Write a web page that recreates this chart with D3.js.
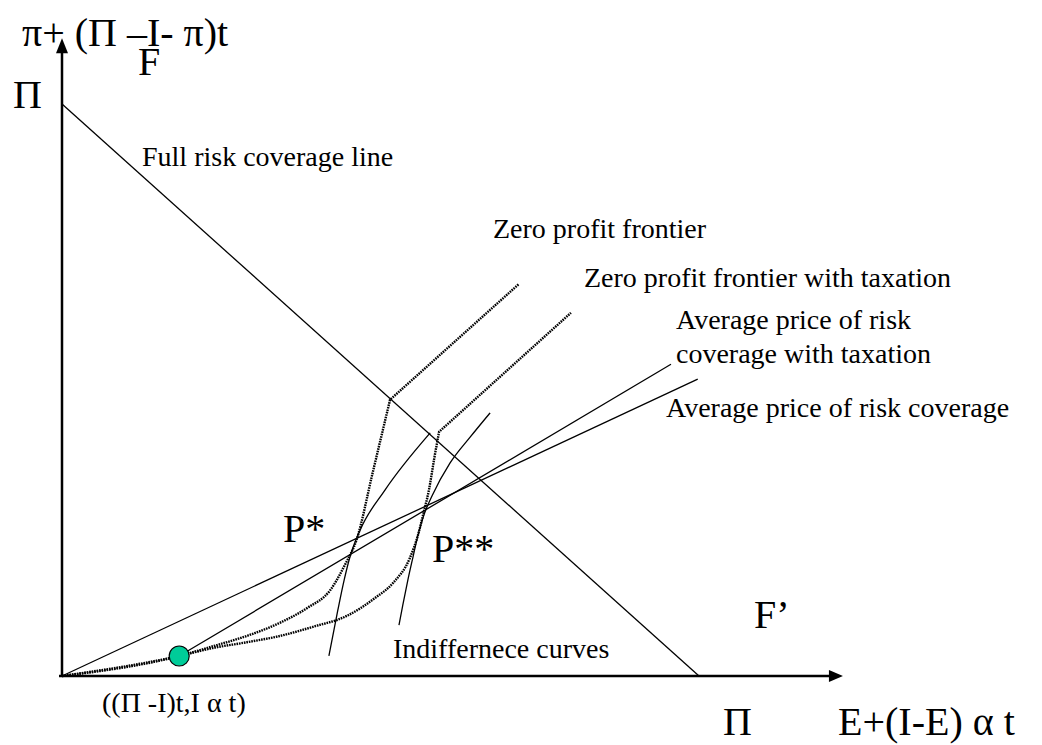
<!DOCTYPE html>
<html>
<head>
<meta charset="utf-8">
<script src="https://cdn.jsdelivr.net/npm/d3@7"></script>
<style>
  html, body { margin: 0; padding: 0; background: #fff; }
  svg { display: block; }
  text { font-family: "Liberation Serif", "Times New Roman", serif; fill: #000; }
</style>
</head>
<body>
<svg id="chart" width="1042" height="745"></svg>
<script>
// ---- Data (abstract units, Π = 10 on both axes) ----
const axisExtentX = 12.26;
const axisExtentY = 11.15;
const fullRiskLine = [[0, 10], [10, 0]];
const avgPriceLine = [[0, 0], [9.98, 5.19]];
const avgPriceTaxLine = [[1.84, 0.35], [9.56, 5.45]];
const startPoint = [1.84, 0.35];
// last point of each frontier is reached by a straight segment from the kink
const zeroProfit = [[0,0],[1.84,0.35],[2.37,0.52],[2.90,0.70],[3.42,0.93],[3.85,1.19],[4.21,1.50],[4.44,1.94],[4.63,2.40],[4.87,3.52],[5.15,4.83],[7.17,6.85]];
const zeroProfitTax = [[0,0],[1.84,0.35],[2.37,0.49],[2.90,0.59],[3.42,0.70],[3.94,0.86],[4.47,1.05],[4.91,1.36],[5.20,1.63],[5.46,2.06],[5.59,2.47],[5.68,2.87],[5.76,3.25],[5.84,3.78],[5.92,4.27],[7.99,6.35]];
const indiff1 = [[4.19,0.35],[4.33,1.15],[4.43,1.68],[4.52,2.08],[4.68,2.55],[5.07,3.25],[5.78,4.25]];
const indiff2 = [[5.29,0.89],[5.35,1.24],[5.43,1.68],[5.51,2.08],[5.59,2.47],[5.68,2.81],[5.81,3.15],[6.09,3.72],[6.41,4.18],[6.72,4.60]];

const labelsText = {
  yTitle: "π+ (Π –I- π)t",
  yTitleSub: "F",
  yPi: "Π",
  fullRisk: "Full risk coverage line",
  zpf: "Zero profit frontier",
  zpfTax: "Zero profit frontier with taxation",
  avgTax1: "Average price of risk",
  avgTax2: "coverage with taxation",
  avg: "Average price of risk coverage",
  pStar: "P*",
  pStar2: "P**",
  fPrime: "F’",
  indiff: "Indiffernece curves",
  start: "((Π -I)t,I α t)",
  xPi: "Π",
  xTitle: "E+(I-E) α t"
};

// ---- Scales ----
const x = d3.scaleLinear().domain([0, 10]).range([62, 699]);
const y = d3.scaleLinear().domain([0, 10]).range([676, 104]);

const svg = d3.select("#chart");
const line = d3.line().x(d => x(d[0])).y(d => y(d[1]));
const smooth = d3.line().x(d => x(d[0])).y(d => y(d[1])).curve(d3.curveMonotoneX);

// Axes
svg.append("line").attr("x1", x(0)).attr("y1", y(0) + 1).attr("x2", x(0)).attr("y2", y(axisExtentY) + 12)
  .attr("stroke", "#000").attr("stroke-width", 2.5);
svg.append("line").attr("x1", x(0) - 3).attr("y1", y(0)).attr("x2", x(axisExtentX) - 12).attr("y2", y(0))
  .attr("stroke", "#000").attr("stroke-width", 2.5);
const yt = [x(0), y(axisExtentY)];
svg.append("path").attr("d", `M${yt[0]},${yt[1]} L${yt[0]-6},${yt[1]+15} L${yt[0]+6},${yt[1]+15} Z`).attr("fill", "#000");
const xt = [x(axisExtentX), y(0)];
svg.append("path").attr("d", `M${xt[0]},${xt[1]} L${xt[0]-14},${xt[1]-6} L${xt[0]-14},${xt[1]+6} Z`).attr("fill", "#000");

// Straight lines
[fullRiskLine, avgPriceLine, avgPriceTaxLine].forEach(d => {
  svg.append("path").attr("d", line(d)).attr("fill", "none").attr("stroke", "#000").attr("stroke-width", 1.3);
});

// Indifference curves
[indiff1, indiff2].forEach(d => {
  svg.append("path").attr("d", smooth(d)).attr("fill", "none").attr("stroke", "#000").attr("stroke-width", 1.3);
});

// Zero profit frontiers (dotted): smooth up to the kink, then straight
[zeroProfit, zeroProfitTax].forEach(d => {
  const end = d[d.length - 1];
  const p = smooth(d.slice(0, -1)) + `L${x(end[0])},${y(end[1])}`;
  svg.append("path").attr("d", p).attr("fill", "none").attr("stroke", "#000")
    .attr("stroke-width", 2.4).attr("stroke-dasharray", "1.6,0.9");
});

// start point
svg.append("circle").attr("cx", x(startPoint[0])).attr("cy", y(startPoint[1])).attr("r", 10)
  .attr("fill", "#00cc99").attr("stroke", "#000").attr("stroke-width", 1.2);

// Labels
function label(t, px, py, size) {
  svg.append("text").attr("x", px).attr("y", py).attr("font-size", size).text(t);
}
label(labelsText.yTitle, 22, 46, 40);
label(labelsText.yTitleSub, 138, 75, 40);
label(labelsText.yPi, 13, 108, 40);
label(labelsText.fullRisk, 142, 166, 28);
label(labelsText.zpf, 493, 238, 28);
label(labelsText.zpfTax, 584, 287, 28);
label(labelsText.avgTax1, 676, 329, 28);
label(labelsText.avgTax2, 676, 363, 28);
label(labelsText.avg, 666, 417, 28);
label(labelsText.pStar, 283, 542, 40);
label(labelsText.pStar2, 432, 562, 40);
label(labelsText.fPrime, 754, 628, 40);
label(labelsText.indiff, 393, 658, 28);
label(labelsText.start, 102, 712, 28);
label(labelsText.xPi, 723, 735, 40);
label(labelsText.xTitle, 838, 735, 40);
</script>
</body>
</html>
